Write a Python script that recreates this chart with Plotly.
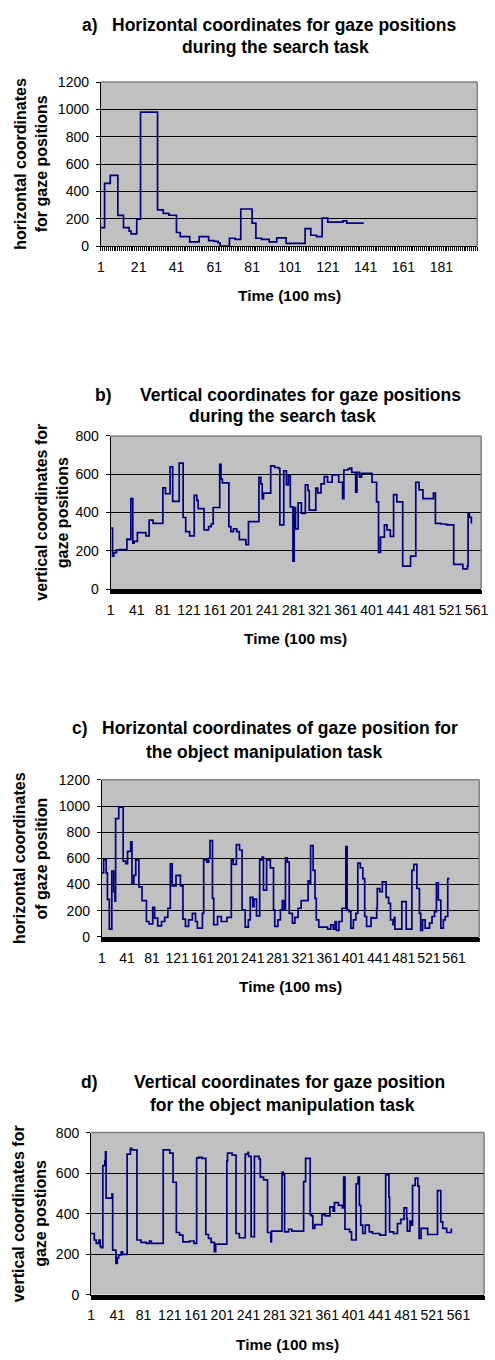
import plotly.graph_objects as go

W, H = 495, 1360

# ---------------- data (time index where gaze value changes, value) ----------------
# a) horizontal coordinates, search task
a_time = [1, 3, 6, 10, 13, 16, 17, 20, 22, 31, 34, 37, 41, 43, 48, 53, 58, 61, 63, 64,
          69, 72, 75, 81, 83, 86, 90, 94, 99, 109, 112, 115, 118, 121, 129, 131, 140]
a_value = [135, 460, 518, 225, 135, 110, 90, 198, 980, 265, 240, 226, 100, 70, 31, 70, 41, 35, 25, 0,
           58, 50, 272, 168, 58, 50, 31, 60, 20, 128, 80, 70, 205, 176, 185, 168, 168]

# b) vertical coordinates, search task
b_time = [1, 4, 6, 10, 14, 26, 29, 32, 35, 37, 42, 55, 60, 66, 81, 85, 92, 96, 106, 112,
          116, 122, 129, 133, 135, 144, 151, 155, 158, 168, 170, 172, 182, 185, 189, 194, 198, 208, 212, 228,
          231, 233, 235, 246, 252, 258, 260, 266, 270, 273, 276, 280, 282, 284, 288, 293, 299, 303, 305, 315,
          318, 323, 328, 333, 340, 350, 356, 358, 364, 367, 370, 376, 378, 382, 385, 401, 408, 411, 414, 420,
          424, 429, 434, 439, 448, 460, 468, 473, 479, 495, 498, 506, 515, 526, 540, 547, 548, 550, 553]
b_value = [318, 172, 190, 203, 206, 261, 258, 472, 240, 249, 295, 278, 360, 343, 529, 498, 639, 458, 658, 374,
           300, 278, 489, 463, 420, 309, 326, 340, 426, 652, 575, 555, 326, 300, 314, 300, 258, 232, 352, 584,
           549, 472, 501, 644, 635, 630, 335, 618, 544, 592, 429, 146, 426, 314, 450, 395, 544, 515, 412, 527,
           503, 549, 587, 558, 596, 558, 472, 622, 627, 632, 610, 506, 610, 584, 604, 558, 455, 192, 271, 335,
           309, 275, 493, 455, 120, 172, 558, 518, 472, 501, 343, 340, 335, 129, 106, 120, 395, 375, 343]

# c) horizontal coordinates, object manipulation task
c_time = [1, 4, 8, 10, 13, 17, 20, 22, 23, 28, 35, 39, 42, 47, 49, 52, 55, 60, 65, 72,
          76, 82, 85, 90, 96, 101, 106, 110, 113, 119, 126, 130, 134, 139, 145, 150, 153, 161, 163, 168,
          171, 173, 177, 179, 185, 191, 200, 207, 210, 215, 220, 224, 229, 234, 237, 241, 243, 247, 252, 256,
          258, 263, 269, 274, 276, 281, 285, 288, 291, 293, 296, 299, 304, 308, 313, 318, 329, 332, 333, 337,
          340, 342, 346, 360, 365, 369, 372, 374, 378, 383, 389, 391, 394, 397, 401, 405, 408, 412, 416, 419,
          422, 429, 432, 438, 439, 443, 447, 453, 457, 460, 464, 466, 467, 478, 485, 494, 497, 502, 506, 508,
          511, 515, 522, 526, 530, 533, 536, 540, 544, 547, 551, 554]
c_value = [490, 591, 490, 287, 60, 503, 345, 274, 903, 991, 579, 560, 654, 727, 408, 470, 589, 382, 277, 118,
           100, 226, 143, 85, 118, 150, 219, 558, 390, 470, 390, 136, 80, 130, 180, 118, 68, 180, 589, 571,
           601, 735, 294, 93, 156, 118, 150, 589, 554, 705, 664, 206, 75, 130, 302, 231, 289, 161, 589, 609,
           357, 589, 528, 206, 80, 130, 206, 277, 206, 604, 571, 180, 106, 150, 219, 277, 428, 408, 697, 508,
           294, 130, 75, 60, 93, 60, 118, 50, 118, 219, 689, 206, 194, 68, 130, 180, 564, 528, 445, 156,
           80, 148, 143, 219, 370, 345, 420, 302, 257, 130, 93, 150, 60, 269, 60, 508, 554, 370, 180, 50,
           130, 68, 106, 156, 194, 413, 282, 68, 130, 156, 445, 445]

# d) vertical coordinates, object manipulation task
d_time = [1, 6, 9, 13, 15, 17, 19, 22, 23, 24, 33, 34, 39, 41, 43, 47, 49, 56, 61, 63,
          71, 77, 85, 90, 93, 111, 121, 126, 131, 136, 141, 151, 158, 162, 165, 170, 176, 180, 184, 189,
          191, 208, 209, 216, 222, 227, 236, 240, 241, 245, 250, 257, 259, 264, 270, 275, 276, 292, 294, 296,
          302, 307, 325, 328, 335, 337, 339, 342, 353, 358, 365, 370, 372, 378, 384, 386, 388, 395, 398, 405,
          408, 410, 412, 415, 419, 425, 430, 441, 450, 455, 456, 462, 468, 473, 478, 482, 483, 487, 489, 491,
          495, 499, 501, 504, 514, 529, 534, 537, 543, 549, 550]
d_value = [302, 270, 253, 270, 237, 232, 637, 660, 705, 477, 498, 220, 155, 180, 196, 212, 199, 694, 722, 715,
           270, 258, 253, 265, 253, 715, 699, 555, 307, 294, 261, 265, 253, 674, 678, 673, 297, 278, 258, 212,
           250, 660, 699, 689, 302, 281, 694, 702, 683, 286, 683, 670, 580, 567, 307, 261, 314, 604, 591, 310,
           323, 314, 558, 673, 395, 389, 327, 346, 395, 389, 433, 412, 454, 441, 428, 580, 323, 310, 270, 547,
           580, 441, 343, 302, 343, 310, 302, 294, 591, 482, 310, 302, 351, 372, 428, 376, 314, 363, 343, 539,
           575, 536, 278, 327, 297, 514, 359, 327, 307, 307, 327]

a_xticks = [1, 21, 41, 61, 81, 101, 121, 141, 161, 181]
bcd_xticks = [1, 41, 81, 121, 161, 201, 241, 281, 321, 361, 401, 441, 481, 521, 561]
y1200_ticks = [0, 200, 400, 600, 800, 1000, 1200]
y800_ticks = [0, 200, 400, 600, 800]

titles = [
    ("a)", "Horizontal coordinates for gaze positions", "during the search task"),
    ("b)", "Vertical coordinates for gaze positions", "during the search task"),
    ("c)", "Horizontal coordinates of gaze position for", "the object manipulation task"),
    ("d)", "Vertical coordinates for gaze position", "for the object manipulation task"),
]
ytitles = [
    ("horizontal coordinates", "for gaze positions"),
    ("vertical coordinates for", "gaze positions"),
    ("horizontal coordinates", "of gaze position"),
    ("vertical coordinates for", "gaze postions"),
]
xtitle = "Time (100 ms)"

# ---------------- layout geometry (pixels) ----------------
panels = [
    dict(t=a_time, v=a_value, xr=[1, 200], yr=[0, 1200], xt=a_xticks, yt=y1200_ticks,
         box=(99, 484, 75, 241),
         tl=(78, 17), t1=(286, 17), t2=(278, 39), y1=16, y2=38),
    dict(t=b_time, v=b_value, xr=[1, 568], yr=[0, 800], xt=bcd_xticks, yt=y800_ticks,
         box=(109, 488, 433, 588),
         tl=(91, 392), t1=(303, 392), t2=(285, 413), y1=38, y2=60),
    dict(t=c_time, v=c_value, xr=[1, 601], yr=[0, 1200], xt=bcd_xticks, yt=y1200_ticks,
         box=(100, 486, 781, 940),
         tl=(68, 729), t1=(282, 729), t2=(266, 753), y1=16, y2=38),
    dict(t=d_time, v=d_value, xr=[1, 600], yr=[0, 800], xt=bcd_xticks, yt=y800_ticks,
         box=(89, 491, 1138, 1302),
         tl=(77, 1087), t1=(292, 1087), t2=(285, 1110), y1=15, y2=37),
]

FONT = "Arial, 'Liberation Sans', sans-serif"
fig = go.Figure()
annotations = []
shapes = []


def px(x):
    return x / W


def py(y):
    return 1 - y / H


for i, p in enumerate(panels):
    n = "" if i == 0 else str(i + 1)
    xa, ya = "x" + n, "y" + n
    fig.add_trace(go.Scatter(x=p["t"], y=p["v"], mode="lines", line_shape="hv",
                             line=dict(color="#000080", width=1.7),
                             xaxis=xa, yaxis=ya, showlegend=False, hoverinfo="skip"))
    x0, x1, y0, y1 = p["box"]
    fig.update_layout(**{
        "xaxis" + n: dict(domain=[px(x0), px(x1)], anchor=ya, range=p["xr"],
                          tickmode="array", tickvals=p["xt"], ticktext=[str(t) for t in p["xt"]],
                          tickangle=0, ticks="outside", ticklen=4, tickcolor="black",
                          minor=dict(dtick=1, tick0=1, ticks="outside", ticklen=4,
                                     tickcolor="black", tickwidth=1, showgrid=False),
                          showline=True, linecolor="black", linewidth=1,
                          showgrid=False, zeroline=False, ticklabelstandoff=4,
                          ticklabeloverflow="allow",
                          tickfont=dict(family=FONT, size=14, color="black")),
        "yaxis" + n: dict(domain=[py(y1), py(y0)], anchor=xa, range=p["yr"],
                          tickmode="array", tickvals=p["yt"],
                          ticks="outside", ticklen=4, tickcolor="black",
                          showline=True, linecolor="black", linewidth=1,
                          showgrid=True, gridcolor="black", gridwidth=1,
                          zeroline=False, ticklabelstandoff=4,
                          tickfont=dict(family=FONT, size=14, color="black")),
    })
    # gray top/right frame of plot area
    shapes.append(dict(type="line", xref=xa + " domain", yref=ya + " domain",
                       x0=0, x1=1, y0=1, y1=1, line=dict(color="#808080", width=1.5), layer="above"))
    shapes.append(dict(type="line", xref=xa + " domain", yref=ya + " domain",
                       x0=1, x1=1, y0=0, y1=1, line=dict(color="#808080", width=1.5), layer="above"))
    lab, line1, line2 = titles[i]
    tf = dict(family=FONT, size=17.5, color="black")
    annotations.append(dict(text="<b>" + lab + "</b>", x=px(p["tl"][0]), y=py(p["tl"][1]),
                            xref="paper", yref="paper", xanchor="left", yanchor="middle",
                            showarrow=False, font=tf))
    annotations.append(dict(text="<b>" + line1 + "</b>", x=px(p["t1"][0]), y=py(p["t1"][1]),
                            xref="paper", yref="paper", xanchor="center", yanchor="middle",
                            showarrow=False, font=tf))
    annotations.append(dict(text="<b>" + line2 + "</b>", x=px(p["t2"][0]), y=py(p["t2"][1]),
                            xref="paper", yref="paper", xanchor="center", yanchor="middle",
                            showarrow=False, font=tf))
    ycen = (y0 + y1) / 2
    yf = dict(family=FONT, size=16, color="black")
    annotations.append(dict(text="<b>" + ytitles[i][0] + "</b>", x=px(p["y1"]), y=py(ycen),
                            xref="paper", yref="paper", xanchor="center", yanchor="middle",
                            textangle=-90, showarrow=False, font=yf))
    annotations.append(dict(text="<b>" + ytitles[i][1] + "</b>", x=px(p["y2"]), y=py(ycen),
                            xref="paper", yref="paper", xanchor="center", yanchor="middle",
                            textangle=-90, showarrow=False, font=yf))
    annotations.append(dict(text="<b>" + xtitle + "</b>", x=px((x0 + x1) / 2), y=py(y1 + 50),
                            xref="paper", yref="paper", xanchor="center", yanchor="middle",
                            showarrow=False, font=dict(family=FONT, size=15.5, color="black")))

fig.update_layout(width=W, height=H, margin=dict(l=0, r=0, t=0, b=0),
                  paper_bgcolor="white", plot_bgcolor="#C0C0C0",
                  annotations=annotations, shapes=shapes, showlegend=False,
                  hovermode=False,
                  font=dict(family=FONT, color="black"))

fig.write_html("out.html",
               config={"displayModeBar": False, "responsive": False, "staticPlot": True},
               post_script="document.body.style.margin='0px';")
